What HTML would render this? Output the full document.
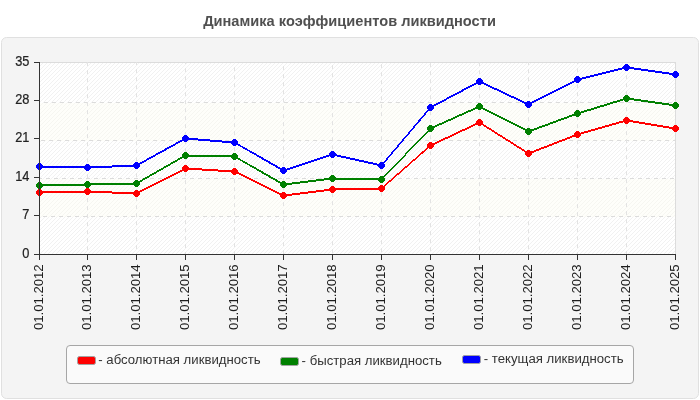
<!DOCTYPE html>
<html><head><meta charset="utf-8"><title>chart</title>
<style>
html,body{margin:0;padding:0;background:#ffffff;}
body{width:700px;height:400px;position:relative;overflow:hidden;font-family:"Liberation Sans",sans-serif;}
</style></head><body>
<svg width="700" height="400" viewBox="0 0 700 400" style="position:absolute;left:0;top:0;will-change:transform">
<defs>
<pattern id="h1" width="4" height="4" patternUnits="userSpaceOnUse" patternTransform="translate(2,0)">
<rect width="4" height="4" fill="#ffffff"/>
<g fill="#f1f1f1" shape-rendering="crispEdges"><rect x="0" y="3" width="1" height="1"/><rect x="1" y="2" width="1" height="1"/><rect x="2" y="1" width="1" height="1"/><rect x="3" y="0" width="1" height="1"/></g>
</pattern>
<pattern id="h2" width="4" height="4" patternUnits="userSpaceOnUse" patternTransform="translate(2,0)">
<rect width="4" height="4" fill="#fefefa"/>
<g fill="#f6f6f1" shape-rendering="crispEdges"><rect x="0" y="3" width="1" height="1"/><rect x="1" y="2" width="1" height="1"/><rect x="2" y="1" width="1" height="1"/><rect x="3" y="0" width="1" height="1"/></g>
</pattern>
</defs>
<rect x="1.5" y="37.5" width="697" height="361" rx="5" ry="5" fill="#f4f4f4" stroke="#e0e0e0" stroke-width="1"/>
<rect x="40" y="62" width="636" height="41" fill="url(#h1)" shape-rendering="crispEdges"/>
<rect x="40" y="103" width="636" height="38" fill="url(#h2)" shape-rendering="crispEdges"/>
<rect x="40" y="141" width="636" height="38" fill="url(#h1)" shape-rendering="crispEdges"/>
<rect x="40" y="179" width="636" height="38" fill="url(#h2)" shape-rendering="crispEdges"/>
<rect x="40" y="217" width="636" height="37" fill="url(#h1)" shape-rendering="crispEdges"/>
<g shape-rendering="crispEdges" stroke="#dcdcdc" stroke-width="1" fill="none"><path d="M40 62.5H676M675.5 62V254"/></g>
<g shape-rendering="crispEdges" stroke="#dcdcdc" stroke-width="1" fill="none" stroke-dasharray="4 4">
<path d="M40 102.5H675" stroke-dashoffset="4"/>
<path d="M40 140.5H675" stroke-dashoffset="7"/>
<path d="M40 178.5H675" stroke-dashoffset="2"/>
<path d="M40 216.5H675" stroke-dashoffset="5"/>
<path d="M87.5 62V254" stroke="#e3e3e3" stroke-dashoffset="0"/>
<path d="M136.5 62V254" stroke="#e3e3e3" stroke-dashoffset="1"/>
<path d="M185.5 62V254" stroke="#e3e3e3" stroke-dashoffset="2"/>
<path d="M234.5 62V254" stroke="#e3e3e3" stroke-dashoffset="3"/>
<path d="M283.5 62V254" stroke="#e3e3e3" stroke-dashoffset="4"/>
<path d="M332.5 62V254" stroke="#e3e3e3" stroke-dashoffset="5"/>
<path d="M381.5 62V254" stroke="#e3e3e3" stroke-dashoffset="6"/>
<path d="M430.5 62V254" stroke="#e3e3e3" stroke-dashoffset="7"/>
<path d="M479.5 62V254" stroke="#e3e3e3" stroke-dashoffset="0"/>
<path d="M528.5 62V254" stroke="#e3e3e3" stroke-dashoffset="1"/>
<path d="M577.5 62V254" stroke="#e3e3e3" stroke-dashoffset="2"/>
<path d="M626.5 62V254" stroke="#e3e3e3" stroke-dashoffset="3"/>
</g>
<g stroke="#ff0000" fill="none" stroke-linecap="butt" shape-rendering="crispEdges">
<line x1="39.5" y1="192.5" x2="87.5" y2="191.5" stroke-width="2.00"/>
<line x1="87.5" y1="191.5" x2="136.5" y2="193.5" stroke-width="2.00"/>
<line x1="136.5" y1="193.5" x2="185.5" y2="168.5" stroke-width="1.78"/>
<line x1="185.5" y1="168.5" x2="234.5" y2="171.5" stroke-width="2.00"/>
<line x1="234.5" y1="171.5" x2="283.5" y2="195.5" stroke-width="1.80"/>
<line x1="283.5" y1="195.5" x2="332.5" y2="189.5" stroke-width="1.99"/>
<line x1="332.5" y1="189.5" x2="381.5" y2="188.5" stroke-width="2.00"/>
<line x1="381.5" y1="188.5" x2="430.5" y2="145.5" stroke-width="1.50"/>
<line x1="430.5" y1="145.5" x2="479.5" y2="122.5" stroke-width="1.81"/>
<line x1="479.5" y1="122.5" x2="528.5" y2="153.5" stroke-width="1.69"/>
<line x1="528.5" y1="153.5" x2="577.5" y2="134.5" stroke-width="1.86"/>
<line x1="577.5" y1="134.5" x2="626.5" y2="120.5" stroke-width="1.92"/>
<line x1="626.5" y1="120.5" x2="675.5" y2="128.5" stroke-width="1.97"/>
</g>
<g fill="#ff0000" shape-rendering="crispEdges">
<path d="M38 189h3v1h1v1h1v3h-1v1h-1v1h-3v-1h-1v-1h-1v-3h1v-1h1z"/>
<path d="M86 188h3v1h1v1h1v3h-1v1h-1v1h-3v-1h-1v-1h-1v-3h1v-1h1z"/>
<path d="M135 190h3v1h1v1h1v3h-1v1h-1v1h-3v-1h-1v-1h-1v-3h1v-1h1z"/>
<path d="M184 165h3v1h1v1h1v3h-1v1h-1v1h-3v-1h-1v-1h-1v-3h1v-1h1z"/>
<path d="M233 168h3v1h1v1h1v3h-1v1h-1v1h-3v-1h-1v-1h-1v-3h1v-1h1z"/>
<path d="M282 192h3v1h1v1h1v3h-1v1h-1v1h-3v-1h-1v-1h-1v-3h1v-1h1z"/>
<path d="M331 186h3v1h1v1h1v3h-1v1h-1v1h-3v-1h-1v-1h-1v-3h1v-1h1z"/>
<path d="M380 185h3v1h1v1h1v3h-1v1h-1v1h-3v-1h-1v-1h-1v-3h1v-1h1z"/>
<path d="M429 142h3v1h1v1h1v3h-1v1h-1v1h-3v-1h-1v-1h-1v-3h1v-1h1z"/>
<path d="M478 119h3v1h1v1h1v3h-1v1h-1v1h-3v-1h-1v-1h-1v-3h1v-1h1z"/>
<path d="M527 150h3v1h1v1h1v3h-1v1h-1v1h-3v-1h-1v-1h-1v-3h1v-1h1z"/>
<path d="M576 131h3v1h1v1h1v3h-1v1h-1v1h-3v-1h-1v-1h-1v-3h1v-1h1z"/>
<path d="M625 117h3v1h1v1h1v3h-1v1h-1v1h-3v-1h-1v-1h-1v-3h1v-1h1z"/>
<path d="M674 125h3v1h1v1h1v3h-1v1h-1v1h-3v-1h-1v-1h-1v-3h1v-1h1z"/>
</g>

<g stroke="#008000" fill="none" stroke-linecap="butt" shape-rendering="crispEdges">
<line x1="39.5" y1="185.5" x2="87.5" y2="184.5" stroke-width="2.00"/>
<line x1="87.5" y1="184.5" x2="136.5" y2="183.5" stroke-width="2.00"/>
<line x1="136.5" y1="183.5" x2="185.5" y2="155.5" stroke-width="1.74"/>
<line x1="185.5" y1="155.5" x2="234.5" y2="156.5" stroke-width="2.00"/>
<line x1="234.5" y1="156.5" x2="283.5" y2="184.5" stroke-width="1.74"/>
<line x1="283.5" y1="184.5" x2="332.5" y2="178.5" stroke-width="1.99"/>
<line x1="332.5" y1="178.5" x2="381.5" y2="179.5" stroke-width="2.00"/>
<line x1="381.5" y1="179.5" x2="430.5" y2="128.5" stroke-width="1.44"/>
<line x1="430.5" y1="128.5" x2="479.5" y2="106.5" stroke-width="1.82"/>
<line x1="479.5" y1="106.5" x2="528.5" y2="131.5" stroke-width="1.78"/>
<line x1="528.5" y1="131.5" x2="577.5" y2="113.5" stroke-width="1.88"/>
<line x1="577.5" y1="113.5" x2="626.5" y2="98.5" stroke-width="1.91"/>
<line x1="626.5" y1="98.5" x2="675.5" y2="105.5" stroke-width="1.98"/>
</g>
<g fill="#008000" shape-rendering="crispEdges">
<path d="M38 182h3v1h1v1h1v3h-1v1h-1v1h-3v-1h-1v-1h-1v-3h1v-1h1z"/>
<path d="M86 181h3v1h1v1h1v3h-1v1h-1v1h-3v-1h-1v-1h-1v-3h1v-1h1z"/>
<path d="M135 180h3v1h1v1h1v3h-1v1h-1v1h-3v-1h-1v-1h-1v-3h1v-1h1z"/>
<path d="M184 152h3v1h1v1h1v3h-1v1h-1v1h-3v-1h-1v-1h-1v-3h1v-1h1z"/>
<path d="M233 153h3v1h1v1h1v3h-1v1h-1v1h-3v-1h-1v-1h-1v-3h1v-1h1z"/>
<path d="M282 181h3v1h1v1h1v3h-1v1h-1v1h-3v-1h-1v-1h-1v-3h1v-1h1z"/>
<path d="M331 175h3v1h1v1h1v3h-1v1h-1v1h-3v-1h-1v-1h-1v-3h1v-1h1z"/>
<path d="M380 176h3v1h1v1h1v3h-1v1h-1v1h-3v-1h-1v-1h-1v-3h1v-1h1z"/>
<path d="M429 125h3v1h1v1h1v3h-1v1h-1v1h-3v-1h-1v-1h-1v-3h1v-1h1z"/>
<path d="M478 103h3v1h1v1h1v3h-1v1h-1v1h-3v-1h-1v-1h-1v-3h1v-1h1z"/>
<path d="M527 128h3v1h1v1h1v3h-1v1h-1v1h-3v-1h-1v-1h-1v-3h1v-1h1z"/>
<path d="M576 110h3v1h1v1h1v3h-1v1h-1v1h-3v-1h-1v-1h-1v-3h1v-1h1z"/>
<path d="M625 95h3v1h1v1h1v3h-1v1h-1v1h-3v-1h-1v-1h-1v-3h1v-1h1z"/>
<path d="M674 102h3v1h1v1h1v3h-1v1h-1v1h-3v-1h-1v-1h-1v-3h1v-1h1z"/>
</g>

<g stroke="#0000ff" fill="none" stroke-linecap="butt" shape-rendering="crispEdges">
<line x1="39.5" y1="166.5" x2="87.5" y2="167.5" stroke-width="2.00"/>
<line x1="87.5" y1="167.5" x2="136.5" y2="165.5" stroke-width="2.00"/>
<line x1="136.5" y1="165.5" x2="185.5" y2="138.5" stroke-width="1.75"/>
<line x1="185.5" y1="138.5" x2="234.5" y2="142.5" stroke-width="1.99"/>
<line x1="234.5" y1="142.5" x2="283.5" y2="170.5" stroke-width="1.74"/>
<line x1="283.5" y1="170.5" x2="332.5" y2="154.5" stroke-width="1.90"/>
<line x1="332.5" y1="154.5" x2="381.5" y2="165.5" stroke-width="1.95"/>
<line x1="381.5" y1="165.5" x2="430.5" y2="107.5" stroke-width="1.53"/>
<line x1="430.5" y1="107.5" x2="479.5" y2="81.5" stroke-width="1.77"/>
<line x1="479.5" y1="81.5" x2="528.5" y2="104.5" stroke-width="1.81"/>
<line x1="528.5" y1="104.5" x2="577.5" y2="79.5" stroke-width="1.78"/>
<line x1="577.5" y1="79.5" x2="626.5" y2="67.5" stroke-width="1.94"/>
<line x1="626.5" y1="67.5" x2="675.5" y2="74.5" stroke-width="1.98"/>
</g>
<g fill="#0000ff" shape-rendering="crispEdges">
<path d="M38 163h3v1h1v1h1v3h-1v1h-1v1h-3v-1h-1v-1h-1v-3h1v-1h1z"/>
<path d="M86 164h3v1h1v1h1v3h-1v1h-1v1h-3v-1h-1v-1h-1v-3h1v-1h1z"/>
<path d="M135 162h3v1h1v1h1v3h-1v1h-1v1h-3v-1h-1v-1h-1v-3h1v-1h1z"/>
<path d="M184 135h3v1h1v1h1v3h-1v1h-1v1h-3v-1h-1v-1h-1v-3h1v-1h1z"/>
<path d="M233 139h3v1h1v1h1v3h-1v1h-1v1h-3v-1h-1v-1h-1v-3h1v-1h1z"/>
<path d="M282 167h3v1h1v1h1v3h-1v1h-1v1h-3v-1h-1v-1h-1v-3h1v-1h1z"/>
<path d="M331 151h3v1h1v1h1v3h-1v1h-1v1h-3v-1h-1v-1h-1v-3h1v-1h1z"/>
<path d="M380 162h3v1h1v1h1v3h-1v1h-1v1h-3v-1h-1v-1h-1v-3h1v-1h1z"/>
<path d="M429 104h3v1h1v1h1v3h-1v1h-1v1h-3v-1h-1v-1h-1v-3h1v-1h1z"/>
<path d="M478 78h3v1h1v1h1v3h-1v1h-1v1h-3v-1h-1v-1h-1v-3h1v-1h1z"/>
<path d="M527 101h3v1h1v1h1v3h-1v1h-1v1h-3v-1h-1v-1h-1v-3h1v-1h1z"/>
<path d="M576 76h3v1h1v1h1v3h-1v1h-1v1h-3v-1h-1v-1h-1v-3h1v-1h1z"/>
<path d="M625 64h3v1h1v1h1v3h-1v1h-1v1h-3v-1h-1v-1h-1v-3h1v-1h1z"/>
<path d="M674 71h3v1h1v1h1v3h-1v1h-1v1h-3v-1h-1v-1h-1v-3h1v-1h1z"/>
</g>

<g shape-rendering="crispEdges" stroke="#333333" stroke-width="1" fill="none">
<path d="M39.5 62V260M34 254.5H676"/>
<path d="M34 62.5H39"/>
<path d="M34 100.5H39"/>
<path d="M34 138.5H39"/>
<path d="M34 177.5H39"/>
<path d="M34 215.5H39"/>
<path d="M87.5 254V260"/>
<path d="M136.5 254V260"/>
<path d="M185.5 254V260"/>
<path d="M234.5 254V260"/>
<path d="M283.5 254V260"/>
<path d="M332.5 254V260"/>
<path d="M381.5 254V260"/>
<path d="M430.5 254V260"/>
<path d="M479.5 254V260"/>
<path d="M528.5 254V260"/>
<path d="M577.5 254V260"/>
<path d="M626.5 254V260"/>
<path d="M675.5 254V260"/>
</g>
<g font-family="'Liberation Sans', sans-serif" font-size="13.33px" fill="#222222" stroke="#222222" stroke-width="0.2">
<text transform="translate(29.4,66.3) scale(0.96,1.12)" text-anchor="end">35</text>
<text transform="translate(29.4,104.3) scale(0.96,1.12)" text-anchor="end">28</text>
<text transform="translate(29.4,142.3) scale(0.96,1.12)" text-anchor="end">21</text>
<text transform="translate(29.4,181.3) scale(0.96,1.12)" text-anchor="end">14</text>
<text transform="translate(29.4,219.3) scale(0.96,1.12)" text-anchor="end">7</text>
<text transform="translate(29.4,258.3) scale(0.96,1.12)" text-anchor="end">0</text>
</g>
<g font-family="'Liberation Sans', sans-serif" font-size="13.33px" fill="#1c1c1c">
<text transform="translate(43.3,330) rotate(-90) scale(0.985,1.0)">01.01.2012</text>
<text transform="translate(91.3,330) rotate(-90) scale(0.985,1.0)">01.01.2013</text>
<text transform="translate(140.3,330) rotate(-90) scale(0.985,1.0)">01.01.2014</text>
<text transform="translate(189.3,330) rotate(-90) scale(0.985,1.0)">01.01.2015</text>
<text transform="translate(238.3,330) rotate(-90) scale(0.985,1.0)">01.01.2016</text>
<text transform="translate(287.3,330) rotate(-90) scale(0.985,1.0)">01.01.2017</text>
<text transform="translate(336.3,330) rotate(-90) scale(0.985,1.0)">01.01.2018</text>
<text transform="translate(385.3,330) rotate(-90) scale(0.985,1.0)">01.01.2019</text>
<text transform="translate(434.3,330) rotate(-90) scale(0.985,1.0)">01.01.2020</text>
<text transform="translate(483.3,330) rotate(-90) scale(0.985,1.0)">01.01.2021</text>
<text transform="translate(532.3,330) rotate(-90) scale(0.985,1.0)">01.01.2022</text>
<text transform="translate(581.3,330) rotate(-90) scale(0.985,1.0)">01.01.2023</text>
<text transform="translate(630.3,330) rotate(-90) scale(0.985,1.0)">01.01.2024</text>
<text transform="translate(679.3,330) rotate(-90) scale(0.985,1.0)">01.01.2025</text>
</g>
<text transform="translate(349.5,26.3) scale(0.997,1.04)" text-anchor="middle" font-family="'Liberation Sans', sans-serif" font-weight="bold" font-size="14.67px" fill="#505050">Динамика коэффициентов ликвидности</text>
<rect x="66.5" y="345.5" width="567" height="38" rx="3.5" ry="3.5" fill="#fafafa" stroke="#a6a6a6" stroke-width="1"/>
<rect x="77.5" y="356.5" width="18" height="8" rx="2" ry="2" fill="#ff0000" stroke="#a3a3a3" stroke-width="1"/>
<rect x="280.5" y="357.5" width="18" height="8" rx="2" ry="2" fill="#008000" stroke="#a3a3a3" stroke-width="1"/>
<rect x="462.5" y="355.5" width="18" height="8" rx="2" ry="2" fill="#0000ff" stroke="#a3a3a3" stroke-width="1"/>
<g font-family="'Liberation Sans', sans-serif" font-size="13.33px" fill="#333333">
<text transform="translate(98.3,364.1) scale(0.99,1)">- абсолютная ликвидность</text>
<text transform="translate(301.6,365.1) scale(0.99,1)">- быстрая ликвидность</text>
<text transform="translate(483.8,363.1) scale(0.99,1)">- текущая ликвидность</text>
</g>
</svg>
</body></html>
